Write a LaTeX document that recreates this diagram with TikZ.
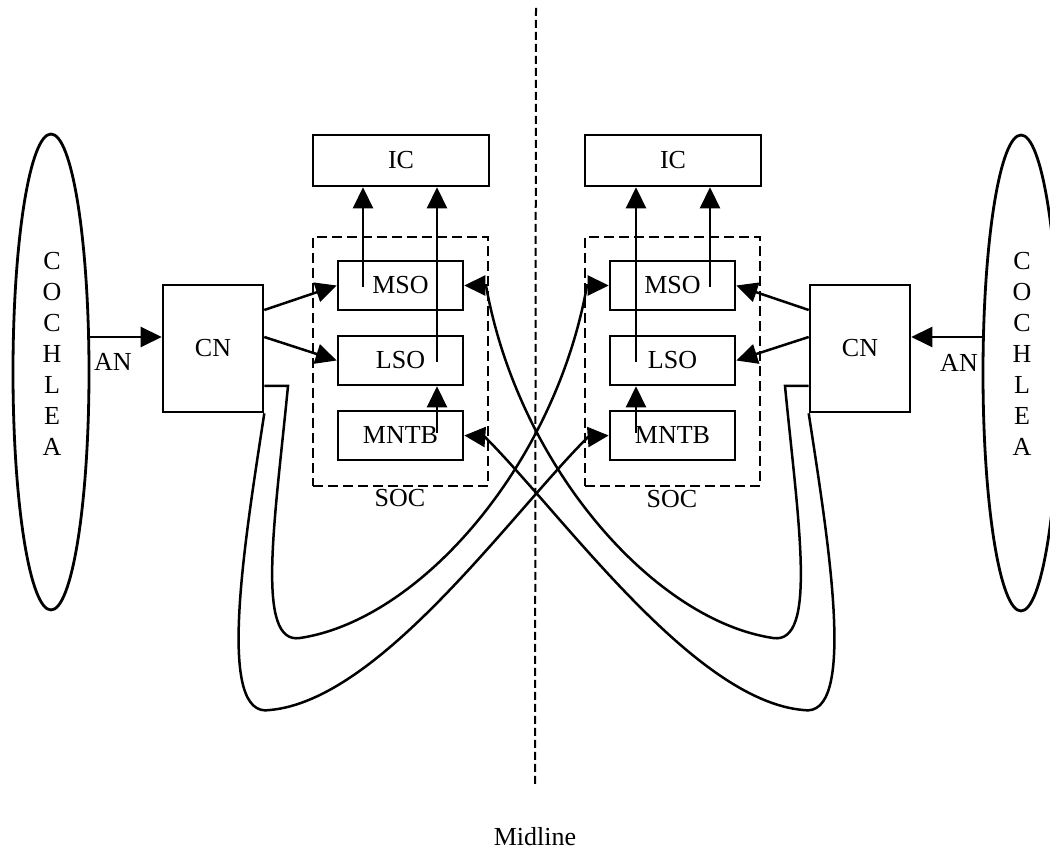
\documentclass[tikz,border=0pt]{standalone}
\usepackage{fontspec}
\setmainfont{Liberation Serif}
\usetikzlibrary{arrows.meta,shapes.geometric,calc}
\begin{document}
\begin{tikzpicture}[x=0.5pt,y=-0.5pt,
  every node/.style={font=\fontsize{13}{15.5}\selectfont},
  blk/.style={draw,line width=1.3pt,inner sep=0pt},
  nucleus/.style={blk,minimum width=62.5pt,minimum height=24.5pt},
  icbox/.style={blk,minimum width=88pt,minimum height=25.5pt},
  cnbox/.style={blk,minimum width=50pt,minimum height=63.5pt},
  socbox/.style={draw,line width=1.2pt,dash pattern=on 5pt off 2.5pt,inner sep=0pt,minimum width=87.5pt,minimum height=124.5pt},
  coch/.style={draw,ellipse,line width=1.4pt,inner sep=0pt,minimum width=38pt,minimum height=238pt},
  arr/.style={line width=1.25pt,-{Triangle[length=10.5pt,width=10pt]}},
  midl/.style={line width=1pt,dash pattern=on 4pt off 2pt},
  lbl/.style={inner sep=0pt}
]
\useasboundingbox (0,0) rectangle (1050,849);

% cochleae
\node[coch] (cochL) at (51,372) {};
\node[coch] (cochR) at (1021,373) {};
\foreach \l [count=\i] in {C,O,C,H,L,E,A} {
  \node[lbl] (lL\i) at (52,230+31*\i) {\l};
  \node[lbl] (lR\i) at (1022,230+31*\i) {\l};
}

% cochlear nuclei
\node[cnbox] (cnL) at (213,348.5) {CN};
\node[cnbox] (cnR) at (860,348.5) {CN};

% SOC
\node[socbox] (socL) at (400.5,361.5) {};
\node[socbox] (socR) at (672.5,361.5) {};
\node[lbl] (socLl) at (400,498) {SOC};
\node[lbl] (socRl) at (672,499) {SOC};

\node[nucleus] (msoL) at (400.5,285.5) {MSO};
\node[nucleus] (lsoL) at (400.5,360.5) {LSO};
\node[nucleus] (mntbL) at (400.5,435.5) {MNTB};
\node[nucleus] (msoR) at (672.5,285.5) {MSO};
\node[nucleus] (lsoR) at (672.5,360.5) {LSO};
\node[nucleus] (mntbR) at (672.5,435.5) {MNTB};

% IC
\node[icbox] (icL) at (401,160.5) {IC};
\node[icbox] (icR) at (673,160.5) {IC};

% labels
\node[lbl] (anL) at (113,362) {AN};
\node[lbl] (anR) at (959,363) {AN};
\node[lbl] (mid) at (535,837) {Midline};

% midline
\coordinate (mtop) at (536,8);
\coordinate (mbot) at (535,785);
\draw[midl] (mtop) -- (mbot);

% auditory nerve
\coordinate (aL) at ($(cnL.west)+(0,-11.5)$);
\coordinate (aR) at ($(cnR.east)+(0,-11.5)$);
\draw[arr] (cochL.east |- aL) -- (aL);
\draw[arr] (cochR.west |- aR) -- (aR);

% ipsilateral CN -> MSO/LSO
\draw[arr] ($(cnL.east)+(0,-38.5)$) -- (msoL.west);
\draw[arr] ($(cnL.east)+(0,-11.5)$) -- (lsoL.west);
\draw[arr] ($(cnR.west)+(0,-38.5)$) -- (msoR.east);
\draw[arr] ($(cnR.west)+(0,-11.5)$) -- (lsoR.east);

% to IC
\coordinate (m1) at ($(msoL.center)+(-37.5,1.5)$);
\coordinate (l1) at ($(lsoL.center)+(36.5,1.5)$);
\coordinate (n1) at ($(mntbL.center)+(36.5,-2.5)$);
\coordinate (m2) at ($(msoR.center)+(37.5,1.5)$);
\coordinate (l2) at ($(lsoR.center)+(-36.5,1.5)$);
\coordinate (n2) at ($(mntbR.center)+(-36.5,-2.5)$);
\draw[arr] (m1) -- (m1 |- icL.south);
\draw[arr] (l1) -- (l1 |- icL.south);
\draw[arr] (n1) -- (n1 |- lsoL.south);
\draw[arr] (m2) -- (m2 |- icR.south);
\draw[arr] (l2) -- (l2 |- icR.south);
\draw[arr] (n2) -- (n2 |- lsoR.south);

% contralateral fibres
\draw[arr] ($(cnL.east)+(0,37.5)$) -- (288,386) .. controls (275,520) and (255,645) .. (300,638)
  .. controls (420,620) and (555,465) .. (587,285.5) -- (msoR.west);
\draw[arr] (cnL.south east) .. controls (245,540) and (215,720) .. (270,710)
  .. controls (380,700) and (510,515) .. (588,437) -- (mntbR.west);
\draw[arr] ($(cnR.west)+(0,37.5)$) -- (785,386) .. controls (798,520) and (818,645) .. (773,638)
  .. controls (653,620) and (518,465) .. (486,285.5) -- (msoL.east);
\draw[arr] (cnR.south west) .. controls (828,540) and (858,720) .. (803,710)
  .. controls (693,700) and (563,515) .. (485,437) -- (mntbL.east);
\end{tikzpicture}
\end{document}
